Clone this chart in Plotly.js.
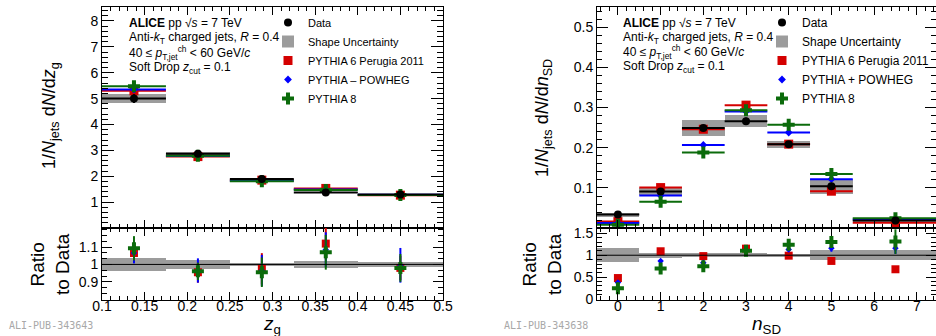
<!DOCTYPE html>
<html><head><meta charset="utf-8">
<script src="https://cdn.plot.ly/plotly-3.0.1.min.js"></script>
<style>html,body{margin:0;padding:0;background:#fff;} #c{width:936px;height:336px;}</style>
</head><body><div id="c"></div>
<script>
// ---------- Left panel: z_g ----------
const zgCenters    = [0.1375, 0.2125, 0.2875, 0.3625, 0.45];
const zgHalfWidths = [0.0375, 0.0375, 0.0375, 0.0375, 0.05];
const zgData       = [5.00, 2.87, 1.89, 1.37, 1.30];
const zgDataErr    = [0.17, 0.05, 0.03, 0.03, 0.03];
const zgShapeUnc   = [0.17, 0.07, 0.02, 0.025, 0.02];
const zgP6         = [5.30, 2.76, 1.85, 1.53, 1.27];
const zgPowheg     = [5.35, 2.78, 1.83, 1.49, 1.29];
const zgP8         = [5.48, 2.79, 1.81, 1.47, 1.28];
const zgModelErr   = [0.04, 0.03, 0.03, 0.03, 0.03];
const zgRatioP6       = [1.066, 0.955, 0.975, 1.12, 0.98];
const zgRatioP6Err    = [0.05, 0.06, 0.09, 0.09, 0.07];
const zgRatioPowheg   = [1.066, 0.965, 0.965, 1.085, 0.995];
const zgRatioPowhegErr= [0.06, 0.07, 0.09, 0.10, 0.10];
const zgRatioP8       = [1.093, 0.96, 0.955, 1.07, 0.98];
const zgRatioP8Err    = [0.07, 0.05, 0.085, 0.10, 0.08];
const zgRatioBand     = [0.035, 0.025, 0.01, 0.018, 0.015];

// ---------- Right panel: n_SD ----------
const nsdCenters    = [0, 1, 2, 3, 4, 5, 6.5];
const nsdHalfWidths = [0.5, 0.5, 0.5, 0.5, 0.5, 0.5, 1.0];
const nsdData       = [0.034, 0.091, 0.249, 0.266, 0.209, 0.104, 0.019];
const nsdDataErr    = [0.003, 0.004, 0.006, 0.009, 0.006, 0.005, 0.002];
const nsdShapeUnc   = [0.005, 0.008, 0.020, 0.015, 0.009, 0.018, 0.003];
const nsdP6         = [0.0165, 0.101, 0.246, 0.306, 0.209, 0.092, 0.0135];
const nsdPowheg     = [0.013, 0.081, 0.207, 0.290, 0.238, 0.122, 0.0215];
const nsdP8         = [0.0085, 0.066, 0.188, 0.293, 0.257, 0.135, 0.0245];
const nsdP6Err      = [0.001, 0.002, 0.003, 0.003, 0.003, 0.002, 0.001];
const nsdPowhegErr  = [0.001, 0.004, 0.004, 0.003, 0.004, 0.003, 0.002];
const nsdP8Err      = [0.001, 0.006, 0.007, 0.004, 0.003, 0.003, 0.003];
const nsdRatioP6        = [0.48, 1.09, 0.98, 1.15, 0.99, 0.87, 0.68];
const nsdRatioP6Err     = [0.04, 0.04, 0.03, 0.04, 0.03, 0.04, 0.07];
const nsdRatioPowheg    = [0.38, 0.87, 0.83, 1.10, 1.13, 1.16, 1.16];
const nsdRatioPowhegErr = [0.04, 0.04, 0.03, 0.04, 0.05, 0.08, 0.13];
const nsdRatioP8        = [0.25, 0.70, 0.75, 1.10, 1.24, 1.30, 1.31];
const nsdRatioP8Err     = [0.04, 0.05, 0.04, 0.04, 0.05, 0.12, 0.28];
const nsdRatioBand      = [0.16, 0.06, 0.04, 0.04, 0.03, 0.11, 0.12];

// ---------- styling ----------
const FONT = 'Liberation Sans, Arial, Helvetica, sans-serif';
const BLACK = '#000000', RED = '#d40000', BLUE = '#0000ff', GREEN = '#0b6b0b', GREY = '#9c9c9c';
const W = 936, H = 336;
const px = v => v / W, py = v => 1 - v / H;

function bandTrace(xs, hw, center, unc, xa, ya, legend, show) {
  return {type: 'bar', x: xs, width: hw.map(h => 2 * h),
    base: center.map((c, i) => c - unc[i]), y: unc.map(u => 2 * u),
    marker: {color: GREY, line: {width: 0}}, name: 'Shape Uncertainty',
    xaxis: xa, yaxis: ya, legend: legend, showlegend: show, legendrank: 2, hoverinfo: 'skip'};
}
function ptTrace(xs, ys, yerr, hw, color, symbol, size, name, xa, ya, legend, show, rank) {
  const t = {type: 'scatter', mode: 'markers', x: xs, y: ys, name: name,
    marker: {color: color, symbol: symbol, size: size, line: {width: 0}},
    error_y: {type: 'data', array: yerr, color: color, thickness: 2, width: 0},
    xaxis: xa, yaxis: ya, legend: legend, showlegend: show, legendrank: rank, hoverinfo: 'skip'};
  if (hw) t.error_x = {type: 'data', array: hw, color: color, thickness: 2, width: 0};
  return t;
}
function constTrace(xs, val) { return xs.map(() => val); }

const data = [
  // left main
  bandTrace(zgCenters, zgHalfWidths, zgData, zgShapeUnc, 'x', 'y', 'legend', true),
  ptTrace(zgCenters, zgP6, zgModelErr, zgHalfWidths, RED, 'square', 9, 'PYTHIA 6 Perugia 2011', 'x', 'y', 'legend', true, 3),
  ptTrace(zgCenters, zgPowheg, zgModelErr, zgHalfWidths, BLUE, 'diamond', 6, 'PYTHIA – POWHEG', 'x', 'y', 'legend', true, 4),
  ptTrace(zgCenters, zgP8, zgModelErr, zgHalfWidths, GREEN, 'cross', 10, 'PYTHIA 8', 'x', 'y', 'legend', true, 5),
  ptTrace(zgCenters, zgData, zgDataErr, zgHalfWidths, BLACK, 'circle', 8, 'Data', 'x', 'y', 'legend', true, 1),
  // left ratio
  bandTrace(zgCenters, zgHalfWidths, constTrace(zgCenters, 1), zgRatioBand, 'x2', 'y2', 'legend', false),
  ptTrace(zgCenters, zgRatioP6, zgRatioP6Err, null, RED, 'square', 8, 'r1', 'x2', 'y2', 'legend', false, 10),
  ptTrace(zgCenters, zgRatioPowheg, zgRatioPowhegErr, null, BLUE, 'diamond', 5, 'r2', 'x2', 'y2', 'legend', false, 10),
  ptTrace(zgCenters, zgRatioP8, zgRatioP8Err, null, GREEN, 'cross', 10, 'r3', 'x2', 'y2', 'legend', false, 10),
  // right main
  bandTrace(nsdCenters, nsdHalfWidths, nsdData, nsdShapeUnc, 'x3', 'y3', 'legend2', true),
  ptTrace(nsdCenters, nsdP6, nsdP6Err, nsdHalfWidths, RED, 'square', 9, 'PYTHIA 6 Perugia 2011', 'x3', 'y3', 'legend2', true, 3),
  ptTrace(nsdCenters, nsdPowheg, nsdPowhegErr, nsdHalfWidths, BLUE, 'diamond', 6, 'PYTHIA + POWHEG', 'x3', 'y3', 'legend2', true, 4),
  ptTrace(nsdCenters, nsdP8, nsdP8Err, nsdHalfWidths, GREEN, 'cross', 10, 'PYTHIA 8', 'x3', 'y3', 'legend2', true, 5),
  ptTrace(nsdCenters, nsdData, nsdDataErr, nsdHalfWidths, BLACK, 'circle', 8, 'Data', 'x3', 'y3', 'legend2', true, 1),
  // right ratio
  bandTrace(nsdCenters, nsdHalfWidths, constTrace(nsdCenters, 1), nsdRatioBand, 'x4', 'y4', 'legend2', false),
  ptTrace(nsdCenters, nsdRatioP6, nsdRatioP6Err, null, RED, 'square', 8, 'r1', 'x4', 'y4', 'legend2', false, 10),
  ptTrace(nsdCenters, nsdRatioPowheg, nsdRatioPowhegErr, null, BLUE, 'diamond', 5, 'r2', 'x4', 'y4', 'legend2', false, 10),
  ptTrace(nsdCenters, nsdRatioP8, nsdRatioP8Err, null, GREEN, 'cross', 10, 'r3', 'x4', 'y4', 'legend2', false, 10)
];

const axBase = {showline: true, linecolor: BLACK, linewidth: 1, mirror: 'ticks', ticks: 'inside',
  tickcolor: BLACK, showgrid: false, zeroline: false, tickfont: {size: 14, family: FONT, color: BLACK}, fixedrange: true};
const ax = o => Object.assign({}, axBase, o);

const LX = [px(102), px(443)], RX = [px(597), 1.0];
const MAINY = [1 - 228 / H, 1 - 7 / H], RATY = [1 - 300 / H, 1 - 228 / H];

const annFont = {family: FONT, size: 12, color: BLACK};
function txt(x, y, t, extra) {
  return Object.assign({xref: 'paper', yref: 'paper', x: px(x), y: py(y), text: t, showarrow: false,
    xanchor: 'left', yanchor: 'middle', font: annFont}, extra || {});
}
const ptLine = '40 ≤ <i>p</i><sub>T,jet</sub><sup>ch</sup> < 60 GeV/<i>c</i>';
const annotations = [
  txt(127, 23, '<b>ALICE</b> pp √<i>s</i> = 7 TeV'),
  txt(127, 38, 'Anti-<i>k</i><sub>T</sub> charged jets, <i>R</i> = 0.4'),
  txt(127, 53, ptLine),
  txt(127, 68, 'Soft Drop <i>z</i><sub>cut</sub> = 0.1'),
  txt(621, 23, '<b>ALICE</b> pp √<i>s</i> = 7 TeV'),
  txt(621, 38, 'Anti-<i>k</i><sub>T</sub> charged jets, <i>R</i> = 0.4'),
  txt(621, 52, ptLine),
  txt(621, 67, 'Soft Drop <i>z</i><sub>cut</sub> = 0.1'),
  // axis titles
  txt(50, 116, '1/<i>N</i><sub>jets</sub> d<i>N</i>/d<i>z</i><sub>g</sub>', {xanchor: 'center', textangle: -90, font: {family: FONT, size: 18, color: BLACK}}),
  txt(50, 264, 'Ratio<br>to Data', {xanchor: 'center', textangle: -90, font: {family: FONT, size: 19, color: BLACK}}),
  txt(544, 118, '1/<i>N</i><sub>jets</sub> d<i>N</i>/d<i>n</i><sub>SD</sub>', {xanchor: 'center', textangle: -90, font: {family: FONT, size: 18, color: BLACK}}),
  txt(542, 264, 'Ratio<br>to Data', {xanchor: 'center', textangle: -90, font: {family: FONT, size: 19, color: BLACK}}),
  txt(272, 325, '<i>z</i><sub>g</sub>', {xanchor: 'center', font: {family: FONT, size: 19, color: BLACK}}),
  txt(766, 325, '<i>n</i><sub>SD</sub>', {xanchor: 'center', font: {family: FONT, size: 19, color: BLACK}}),
  // ALICE figure ids
  txt(7, 325, 'ALI-PUB-343643', {font: {family: 'DejaVu Sans Mono, monospace', size: 10, color: '#a8a8a8'}}),
  txt(502, 325, 'ALI-PUB-343638', {font: {family: 'DejaVu Sans Mono, monospace', size: 10, color: '#a8a8a8'}})
];

const layout = {
  width: W, height: H, margin: {l: 0, r: 0, t: 0, b: 0}, paper_bgcolor: '#fff', plot_bgcolor: '#fff',
  font: {family: FONT, color: BLACK}, barmode: 'overlay', bargap: 0,
  xaxis: ax({domain: LX, range: [0.1, 0.5], anchor: 'y', showticklabels: false, tick0: 0.1, dtick: 0.05, ticklen: 8,
    minor: {ticks: 'inside', dtick: 0.01, ticklen: 4, tickcolor: BLACK}}),
  yaxis: ax({domain: MAINY, range: [0.001, 8.54], anchor: 'x', tick0: 0, dtick: 1, ticklen: 12,
    minor: {ticks: 'inside', dtick: 0.2, ticklen: 6, tickcolor: BLACK}}),
  xaxis2: ax({domain: LX, range: [0.1, 0.5], anchor: 'y2', tick0: 0.1, dtick: 0.05, ticklen: 8, tickformat: '~g', ticklabelstandoff: -7,
    minor: {ticks: 'inside', dtick: 0.01, ticklen: 4, tickcolor: BLACK}}),
  yaxis2: ax({domain: RATY, range: [0.795, 1.21], anchor: 'x2', tickmode: 'array', tickvals: [0.9, 1, 1.1], ticktext: ['0.9', '1', '1.1'], ticklen: 10,
    minor: {ticks: 'inside', tick0: 0.8, dtick: 0.1 / 3, ticklen: 5, tickcolor: BLACK}}),
  xaxis3: ax({domain: RX, range: [-0.49, 7.45], anchor: 'y3', showticklabels: false, tick0: 0, dtick: 1, ticklen: 8,
    minor: {ticks: 'inside', dtick: 0.2, ticklen: 4, tickcolor: BLACK}}),
  yaxis3: ax({domain: MAINY, range: [0.0005, 0.55], anchor: 'x3', tick0: 0, dtick: 0.1, ticklen: 11, tickformat: '.1f',
    minor: {ticks: 'inside', dtick: 0.02, ticklen: 5, tickcolor: BLACK}}),
  xaxis4: ax({domain: RX, range: [-0.49, 7.45], anchor: 'y4', tick0: 0, dtick: 1, ticklen: 8, ticklabelstandoff: -7,
    minor: {ticks: 'inside', dtick: 0.2, ticklen: 4, tickcolor: BLACK}}),
  yaxis4: ax({domain: RATY, range: [-0.02, 1.62], anchor: 'x4', tick0: 0, dtick: 0.5, ticklen: 10, tickformat: '~g',
    minor: {ticks: 'inside', dtick: 0.1, ticklen: 5, tickcolor: BLACK}}),
  legend: {x: px(268), y: py(8), xanchor: 'left', yanchor: 'top', bgcolor: 'rgba(0,0,0,0)', borderwidth: 0,
    font: {family: FONT, size: 11, color: BLACK}, itemwidth: 30, tracegroupgap: 0, traceorder: 'normal'},
  legend2: {x: px(762), y: py(8), xanchor: 'left', yanchor: 'top', bgcolor: 'rgba(0,0,0,0)', borderwidth: 0,
    font: {family: FONT, size: 12, color: BLACK}, itemwidth: 30, tracegroupgap: 0, traceorder: 'normal'},
  shapes: [
    {type: 'line', xref: 'x2 domain', yref: 'y2', x0: 0, x1: 1, y0: 1, y1: 1, line: {color: BLACK, width: 1}},
    {type: 'line', xref: 'x4 domain', yref: 'y4', x0: 0, x1: 1, y0: 1, y1: 1, line: {color: BLACK, width: 1}}
  ],
  annotations: annotations,
  showlegend: true
};

Plotly.newPlot('c', data, layout, {staticPlot: true, displayModeBar: false});
</script>
</body></html>
